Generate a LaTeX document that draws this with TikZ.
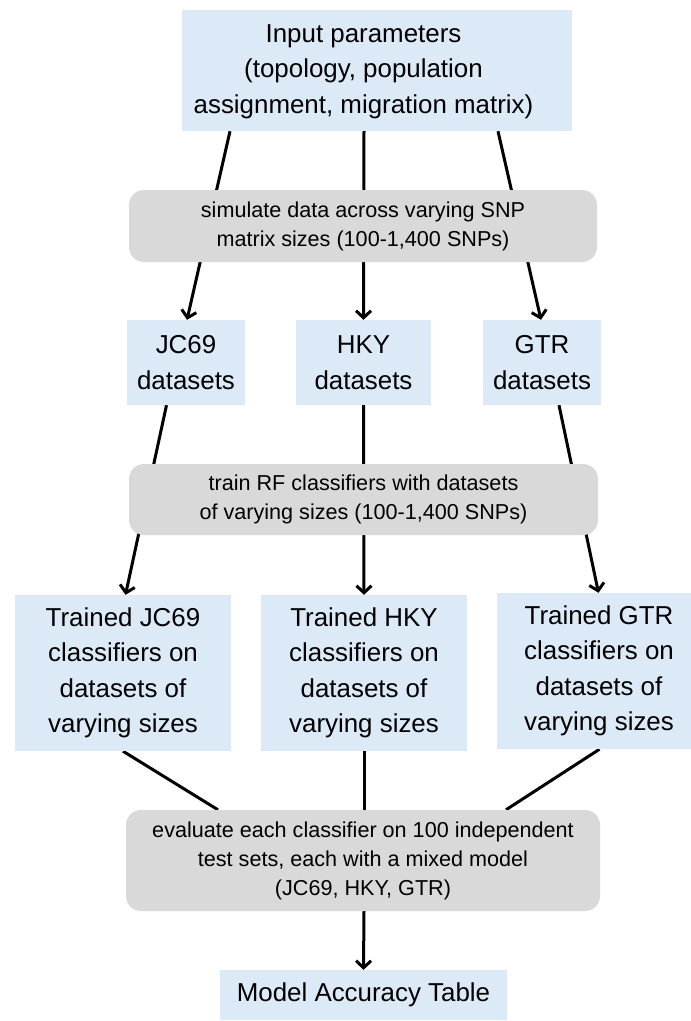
\documentclass[tikz,border=0pt]{standalone}
\usepackage{fontspec}
\setmainfont{Liberation Sans}
\usetikzlibrary{arrows.meta,backgrounds}
\definecolor{boxblue}{RGB}{220,234,248}
\definecolor{boxgray}{RGB}{217,217,217}
\begin{document}
\begin{tikzpicture}[x=1pt,y=-1pt,
  bluebox/.style={fill=boxblue,draw=none,inner sep=0pt,align=center,
    font=\fontsize{25.9}{35.5}\selectfont},
  graybox/.style={fill=boxgray,draw=none,rounded corners=15pt,inner sep=0pt,align=center,
    font=\fontsize{21.6}{29}\selectfont},
  conn/.style={line width=3pt},
  arr/.style={conn,-{Straight Barb[length=7pt,width=15pt]}}]
\useasboundingbox (0,0) rectangle (691,1021);
\node[bluebox,minimum width=390pt,minimum height=121pt] (in) at (377,70.5)
  {\begin{tabular}{@{}c@{}}Input parameters\\(topology, population\\assignment, migration matrix)\end{tabular}\hspace*{27pt}};
\node[graybox,minimum width=468pt,minimum height=72pt] (sim) at (363,226)
  {simulate data across varying SNP\\matrix sizes (100-1,400 SNPs)};
\node[bluebox,minimum width=118pt,minimum height=85pt] (jc) at (186,362.5) {JC69\\datasets};
\node[bluebox,minimum width=135pt,minimum height=85pt] (hky) at (363.5,362.5) {HKY\\datasets};
\node[bluebox,minimum width=118pt,minimum height=85pt] (gtr) at (542,362.5) {GTR\\datasets};
\node[graybox,minimum width=469pt,minimum height=71pt] (train) at (363.5,499.5)
  {train RF classifiers with datasets\\of varying sizes (100-1,400 SNPs)};
\node[bluebox,minimum width=216pt,minimum height=156pt] (tjc) at (123,673)
  {Trained JC69\\classifiers on\\datasets of\\varying sizes};
\node[bluebox,minimum width=206pt,minimum height=156pt] (thky) at (364,673)
  {Trained HKY\\classifiers on\\datasets of\\varying sizes};
\node[bluebox,minimum width=204pt,minimum height=156pt] (tgtr) at (599,671)
  {Trained GTR\\classifiers on\\datasets of\\varying sizes};
\node[graybox,minimum width=474pt,minimum height=101pt] (eval) at (363,860.5)
  {evaluate each classifier on 100 independent\\test sets, each with a mixed model\\(JC69, HKY, GTR)};
\node[bluebox,minimum width=287pt,minimum height=50pt] (mat) at (363.5,995) {Model Accuracy Table};
\begin{scope}[on background layer]
\draw[arr] ([xshift=-147pt]in.south) -- ([xshift=1pt]jc.north);
\draw[arr] ([xshift=-13pt]in.south) -- (hky.north);
\draw[arr] ([xshift=121pt]in.south) -- ([xshift=-1pt]gtr.north);
\draw[arr] ([xshift=-19.5pt]jc.south) -- ([xshift=2.5pt]tjc.north);
\draw[arr] (hky.south) -- (thky.north);
\draw[arr] ([xshift=17pt]gtr.south) -- ([xshift=-0.5pt]tgtr.north);
\draw[conn] (tjc.south) -- ([xshift=-145pt]eval.north);
\draw[conn] (thky.south) -- ([xshift=1pt]eval.north);
\draw[conn] ([xshift=0.5pt]tgtr.south) -- ([xshift=143pt]eval.north);
\draw[arr] ([xshift=1pt]eval.south) -- (mat.north);
\end{scope}
\end{tikzpicture}
\end{document}
